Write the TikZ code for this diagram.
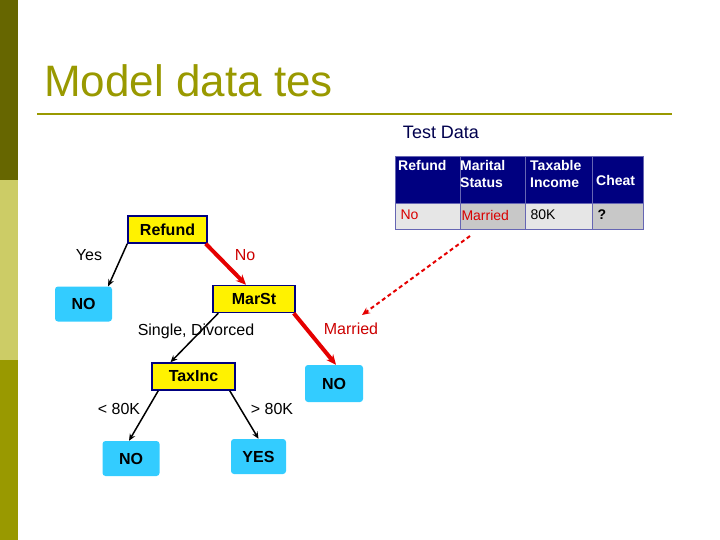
\documentclass[tikz,border=0pt]{standalone}
\usepackage{fontspec}
\setmainfont{Liberation Sans}
\usetikzlibrary{arrows.meta}
\definecolor{olive}{RGB}{153,153,0}
\definecolor{darkol}{RGB}{102,102,0}
\definecolor{lightol}{RGB}{204,204,102}
\definecolor{navy}{RGB}{0,0,128}
\definecolor{leaf}{RGB}{51,204,255}
\definecolor{cellA}{RGB}{230,230,230}
\definecolor{cellB}{RGB}{200,200,200}
\begin{document}
\begin{tikzpicture}[x=1pt,y=-1pt,
 dec/.style={draw=navy,line width=1.5pt,fill=yellow,font=\bfseries\fontsize{16}{18}\selectfont,minimum height=27pt,inner sep=0pt},
 lf/.style={fill=leaf,rounded corners=3pt,font=\bfseries\fontsize{16}{18}\selectfont,minimum height=35pt,minimum width=57pt,inner sep=0pt,anchor=center},
 lab/.style={font=\fontsize{16}{18}\selectfont},
 blk/.style={-{Stealth[length=7pt,width=6pt]},line width=1.5pt},
 red/.style={-{Stealth[length=10pt,width=9pt]},line width=4pt,draw=red!90!black},
 hd/.style={font=\bfseries\fontsize{14}{17}\selectfont,text=white,align=left,inner sep=0pt},
 cl/.style={font=\fontsize{14}{15}\selectfont}]
\useasboundingbox (0,0) rectangle (720,540);
\fill[darkol] (0,0) rectangle (18,180);
\fill[lightol] (0,180) rectangle (18,360);
\fill[olive] (0,360) rectangle (18,540);
\node[anchor=base west,text=olive,font=\fontsize{44}{48}\selectfont,inner sep=0] (title) at (44,97) {Model data tes};
\draw[olive,line width=2.5pt] (37,114) -- (672,114);
\node[font=\fontsize{18}{20}\selectfont,text=navy!60!black] (td) at (441,132) {Test Data};
% table
\fill[navy] (395,156) rectangle (643,203);
\fill[cellA] (395,203) rectangle (460,229);
\fill[cellB] (460,203) rectangle (525,229);
\fill[cellA] (525,203) rectangle (592,229);
\fill[cellB] (592,203) rectangle (643,229);
\draw[navy!60,line width=0.8pt] (395,156) rectangle (643,229) (460,156)--(460,229) (525,156)--(525,229) (592,156)--(592,229) (395,203)--(643,203);
\node[hd,anchor=west] (h1) at (398,165) {Refund};
\node[hd,anchor=west] (h2) at (460,174) {Marital\\Status};
\node[hd,anchor=west] (h3) at (530,174) {Taxable\\Income};
\node[hd,anchor=west] (h4) at (596,180) {Cheat};
\node[cl,anchor=west,text=red!85!black] (c1) at (397,215) {No};
\node[cl,anchor=west,text=red!85!black] (c2) at (458,215) {Married};
\node[cl,anchor=west] (c3) at (527,215) {80K};
\node[cl,anchor=west,font=\bfseries\fontsize{14}{15}\selectfont] (c4) at (594,215) {?};
\coordinate (ds) at (470,236);
% tree
\node[dec,minimum width=79pt] (refund) at (167.5,229.5) {Refund};
\node[lf] (no1) at (83.5,304) {NO};
\node[dec,minimum width=82pt] (marst) at (254,299) {MarSt};
\node[dec,minimum width=83pt] (tax) at (193.5,376.5) {TaxInc};
\node[lf,minimum width=58pt,minimum height=37pt] (no2) at (334,383.5) {NO};
\node[lf] (no3) at (131,458.5) {NO};
\node[lf,minimum width=55pt] (yes) at (258.5,456.5) {YES};
\draw[blk] (refund.south west) -- ([xshift=-4pt]no1.north east);
\draw[red] ([xshift=-2pt]refund.south east) -- ([xshift=-8pt]marst.north);
\draw[blk] ([xshift=6pt]marst.south west) -- ([xshift=-23pt]tax.north);
\draw[red] ([xshift=-2pt]marst.south east) -- ([xshift=2pt]no2.north);
\draw[blk] ([xshift=7pt]tax.south west) -- ([xshift=-2pt]no3.north);
\draw[blk] ([xshift=-6pt]tax.south east) -- (yes.north);
\draw[red,line width=2pt,dash pattern=on 4pt off 3pt,-{Stealth[length=8pt,width=7pt]}] (ds) -- (362,315);
\node[lab] at (89,255) {Yes};
\node[lab,text=red!80!black] at (245,255) {No};
\node[lab] at (196,331) {Single, Divorced};
\node[lab,text=red!80!black] at (351,329) {Married};
\node[lab] at (119,409) {< 80K};
\node[lab] at (272,409) {> 80K};
\end{tikzpicture}
\end{document}
